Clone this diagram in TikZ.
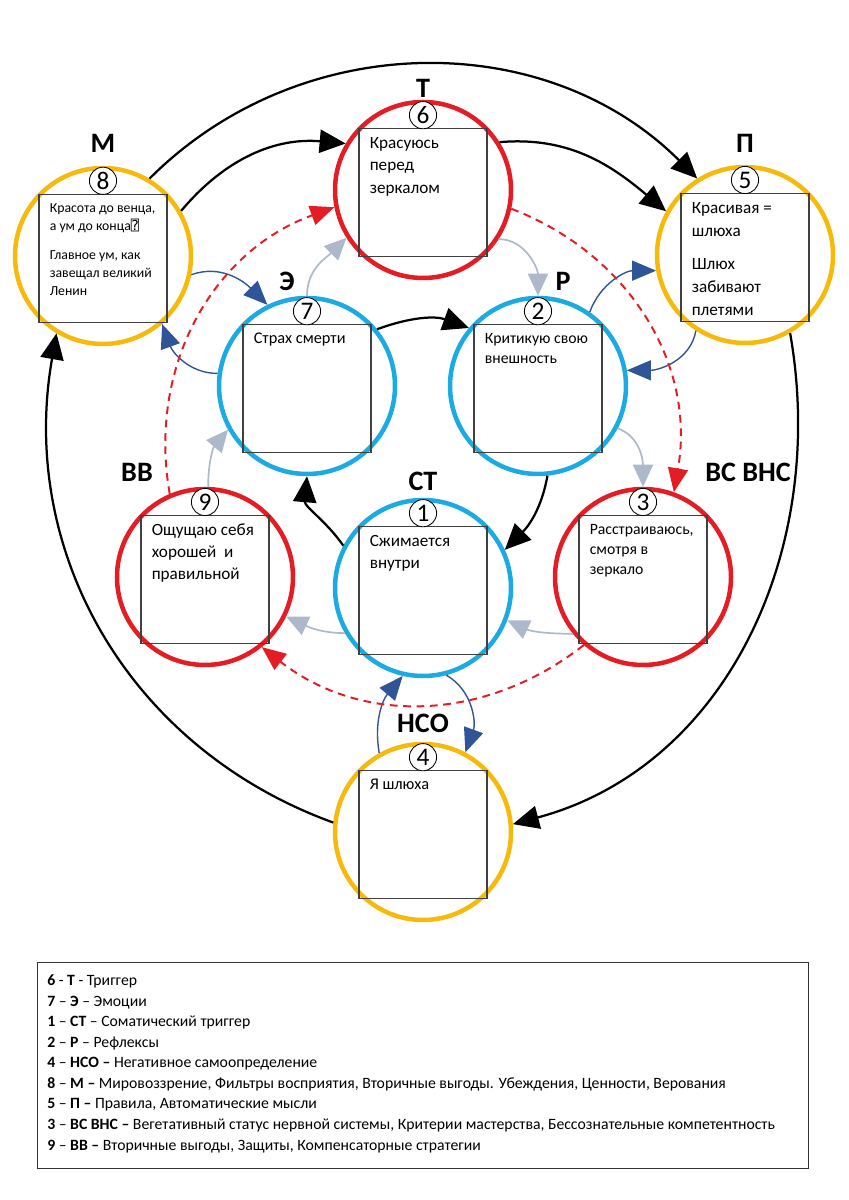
\documentclass[tikz,border=0pt]{standalone}
\usepackage{fontspec}
\setmainfont{Carlito}
\newfontfamily\quadfont{DejaVu Sans Mono}
\usepackage{xcolor}
\usepackage{tikz}
\usetikzlibrary{arrows.meta, positioning}
\definecolor{ringred}{RGB}{228, 28, 36}
\definecolor{ringblue}{RGB}{28, 170, 226}
\definecolor{ringgold}{RGB}{246, 186, 12}
\definecolor{linkblue}{RGB}{47, 85, 151}
\definecolor{linkgray}{RGB}{173, 185, 202}

\begin{document}
\begin{tikzpicture}[
  every node/.style={font=\fontsize{12.2}{16}\selectfont},
  ring/.style={circle, line width=3.2pt, minimum size=4.4cm, inner sep=0pt},
  redring/.style={ring, draw=ringred},
  bluering/.style={ring, draw=ringblue},
  goldring/.style={ring, draw=ringgold},
  box/.style={draw=black!75, line width=0.8pt, inner xsep=0.27cm, inner ysep=0.22cm},
  numb/.style={circle, draw, fill=white, line width=0.6pt, minimum size=0.68cm, inner sep=0pt, font=\fontsize{18}{18}\selectfont},
  letter/.style={font=\bfseries\fontsize{20}{20}\selectfont},
  blackarrow/.style={-{Triangle[length=0.65cm, width=0.58cm]}, line width=1.6pt},
  grayarrow/.style={-{Triangle[length=0.55cm, width=0.5cm]}, line width=1.2pt, color=linkgray},
  bluearrow/.style={-{Triangle[length=0.6cm, width=0.5cm]}, line width=1pt, color=linkblue},
  redarrow/.style={-{Triangle[length=0.6cm, width=0.5cm]}, line width=1.4pt, color=ringred, dash pattern=on 5.5pt off 4pt},
  legendbox/.style={draw=black!80, line width=0.8pt, minimum width=19.275cm, minimum height=5.15cm, inner sep=0pt},
  legendtext/.style={align=left, inner sep=0pt, font=\fontsize{11.2}{14.6}\selectfont}
]
  \useasboundingbox (-10.575,-15) rectangle (10.65,15);

  % Круги
  \node[redring] (t) at (0, 10.25) {};
  \node[goldring] (p) at (8.05, 8.625) {};
  \node[goldring] (m) at (-8.0, 8.6) {};
  \node[bluering] (e) at (-2.9, 5.35) {};
  \node[bluering] (r) at (2.875, 5.35) {};
  \node[redring] (bb) at (-5.45, 0.575) {};
  \node[redring] (vs) at (5.5, 0.575) {};
  \node[bluering] (st) at (0, 0.3) {};
  \node[goldring] (nso) at (0, -5.8) {};

  % Рамки с текстом
  \node[box] (t-box) at (0, 10.19) {\parbox[t][2.76cm][t]{2.66cm}{\raggedright Красуюсь\\перед\\зеркалом}};
  \node[box, font=\fontsize{12.2}{16.5}\selectfont] (p-box) at (8.05, 8.565) {\parbox[t][2.76cm][t]{2.66cm}{\raggedright Красивая =\\шлюха\\[7pt]Шлюх\\забивают\\плетями}};
  \node[box, font=\fontsize{9.8}{12.8}\selectfont] (m-box) at (-8.0, 8.54) {\parbox[t][2.76cm][t]{2.66cm}{\raggedright Красота до венца,\\а ум до конца{\quadfont ⍰}\\[8pt]Главное ум, как\\завещал великий\\Ленин}};
  \node[box, font=\fontsize{11.6}{15}\selectfont] (e-box) at (-2.9, 5.29) {\parbox[t][2.76cm][t]{2.66cm}{\raggedright Страх смерти}};
  \node[box, font=\fontsize{11.2}{14.2}\selectfont] (r-box) at (2.875, 5.29) {\parbox[t][2.76cm][t]{2.66cm}{\raggedright Критикую свою\\внешность}};
  \node[box, font=\fontsize{12.2}{15.6}\selectfont] (bb-box) at (-5.45, 0.515) {\parbox[t][2.76cm][t]{2.66cm}{\raggedright Ощущаю себя\\хорошей\ \ и\\правильной}};
  \node[box, font=\fontsize{11.2}{14.2}\selectfont] (vs-box) at (5.5, 0.515) {\parbox[t][2.76cm][t]{2.66cm}{\raggedright Расстраиваюсь,\\смотря в\\зеркало}};
  \node[box, font=\fontsize{12.2}{15.6}\selectfont] (st-box) at (0, 0.24) {\parbox[t][2.76cm][t]{2.66cm}{\raggedright Сжимается\\внутри}};
  \node[box, font=\fontsize{11.6}{15}\selectfont] (nso-box) at (0, -5.86) {\parbox[t][2.76cm][t]{2.66cm}{\raggedright Я шлюха}};

  % Номера
  \node[numb] (t-num) at (0, 12.12) {6};
  \node[numb] (p-num) at (8.05, 10.5) {5};
  \node[numb] (m-num) at (-8.0, 10.48) {8};
  \node[numb] (e-num) at (-2.9, 7.22) {7};
  \node[numb] (r-num) at (2.875, 7.22) {2};
  \node[numb] (bb-num) at (-5.45, 2.45) {9};
  \node[numb] (vs-num) at (5.5, 2.45) {3};
  \node[numb] (st-num) at (0, 2.17) {1};
  \node[numb] (nso-num) at (0, -3.93) {4};

  % Обозначения
  \node[letter] (t-tag) at (0, 12.8) {Т};
  \node[letter] (p-tag) at (8.05, 11.425) {П};
  \node[letter] (m-tag) at (-8.0, 11.425) {М};
  \node[letter] (e-tag) at (-3.4, 7.975) {Э};
  \node[letter] (r-tag) at (3.5, 7.975) {Р};
  \node[letter] (bb-tag) at (-7.15, 3.2) {ВВ};
  \node[letter] (vs-tag) at (8.125, 3.2) {ВС ВНС};
  \node[letter] (st-tag) at (0, 2.975) {СТ};
  \node[letter] (nso-tag) at (0, -3.075) {НСО};

  % Внешний круг
  \draw[blackarrow] (m.59) to[out=45, in=135] (p.122);
  \draw[blackarrow] (m.30) to[out=50, in=175] (t.149);
  \draw[blackarrow] (t.32) to[out=5, in=140] (p.151);
  \draw[blackarrow] (p.-60) to[out=-80, in=15] (nso.5);
  \draw[blackarrow] (nso.174) to[out=160, in=-100] (m.239);

  % Внутренний круг
  \draw[blackarrow] (e.39) to[out=20, in=160] (r.140);
  \draw[blackarrow] (r.-84) to[out=-100, in=45] (st.25);
  \draw[blackarrow] (st.152) to[out=125, in=-95] (e.-90);

  % Серые связи
  \draw[grayarrow] (t.-33) to[out=0, in=90] (r.90);
  \draw[grayarrow] (e.90) to[out=90, in=225] (t.212);
  \draw[grayarrow] (r.-28) to[out=-20, in=90] (vs.90);
  \draw[grayarrow] (bb.88) to[out=90, in=230] (e.209);
  \draw[grayarrow] (vs.219) to[out=180, in=-25] (st.-21);
  \draw[grayarrow] (st.210) to[out=180, in=-25] (bb.-26);

  % Синие связи
  \draw[bluearrow] (m.-12) to[out=20, in=135] (e.116);
  \draw[bluearrow] (e.172) to[out=180, in=-70] (m.-49);
  \draw[bluearrow] (r.55) to[out=70, in=180] (p.190);
  \draw[bluearrow] (p.237) to[out=-100, in=0] (r.10);
  \draw[bluearrow] (nso.119) to[out=100, in=230] (st.257);
  \draw[bluearrow] (st.-75) to[out=-30, in=70] (nso.62);

  % Пунктир
  \draw[redarrow] (bb.113) to[out=100, in=200] (t.191);
  \draw[redarrow] (t.-12) to[out=-21, in=80] (vs.70);
  \draw[redarrow] (vs.229) to[out=218, in=-38] (bb.-51);

  % Легенда
  \node[legendbox, anchor=north west] (legend) at (-9.65, -9.05) {};
  \node[legendtext, anchor=north west] (legend-text) at ([xshift=0.25cm, yshift=-0.32cm]legend.north west) {%
    \textbf{6} - \textbf{Т} - Триггер\\
    \textbf{7} – \textbf{Э} – Эмоции\\
    \textbf{1} – \textbf{СТ} – Соматический триггер\\
    \textbf{2} – \textbf{Р} – Рефлексы\\
    \textbf{4} – \textbf{НСО –} Негативное самоопределение\\
    \textbf{8} – \textbf{М –} Мировоззрение, Фильтры восприятия, Вторичные выгоды. Убеждения, Ценности, Верования\\
    \textbf{5} – \textbf{П –} Правила, Автоматические мысли\\
    \textbf{3} – \textbf{ВС ВНС –} Вегетативный статус нервной системы, Критерии мастерства, Бессознательные компетентность\\
    \textbf{9} – \textbf{ВВ –} Вторичные выгоды, Защиты, Компенсаторные стратегии};

\end{tikzpicture}
\end{document}
